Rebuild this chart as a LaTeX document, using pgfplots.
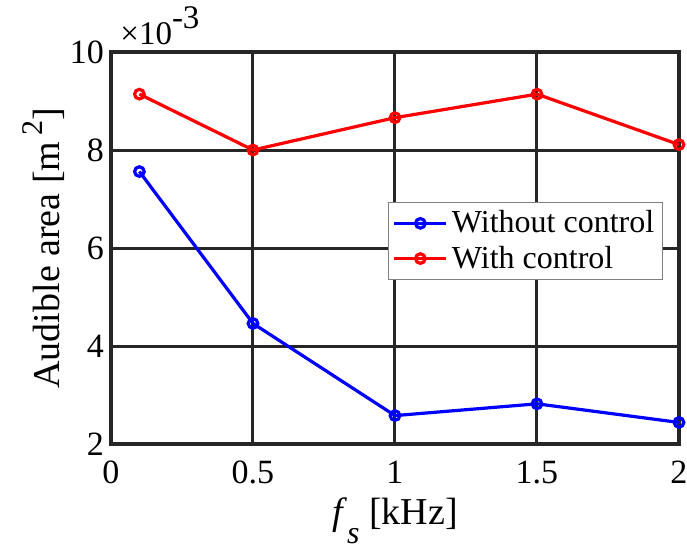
\documentclass[border=0pt]{standalone}
\usepackage{fontspec}
\setmainfont{Liberation Serif}
\usepackage{pgfplots}
\pgfplotsset{compat=1.18}
\definecolor{cAx}{HTML}{262626}

\begin{document}
\begin{tikzpicture}
  \begin{axis}[
    clip=false,
    scale only axis, width=284pt, height=196pt,
    xmin=0, xmax=2, ymin=0.002, ymax=0.010,
    xtick={0,0.5,1,1.5,2}, ytick={0.002,0.004,0.006,0.008,0.010},
    scaled y ticks=base 10:3,
    ytick scale label code/.code={},
    /pgf/number format/assume math mode=true,
    tick label style={font=\fontsize{17}{19}\selectfont},
    xticklabel={\raisebox{0pt}[16.3pt][0pt]{\axisdefaultticklabel}},
    label style={font=\fontsize{19}{21}\selectfont},
    xlabel={\textit{f}\raisebox{-9.5pt}{\fontsize{16}{17}\selectfont\textit{s}} [kHz]},
    ylabel={Audible area [m\,\raisebox{8.5pt}{\fontsize{15}{16}\selectfont 2}]},
    ylabel shift=-4pt,
    grid=major, major grid style={cAx, line width=1.5pt},
    axis line style={cAx, line width=1.7pt},
    tick style={cAx, line width=1pt}, major tick length=3pt,
    tick align=inside,
    legend style={at={(0.488,0.617)}, anchor=north west, draw=gray, fill=white,
                  line width=0.6pt, font=\fontsize{16}{18}\selectfont,
                  inner sep=2pt, row sep=1pt},
    legend image code/.code={\draw[mark repeat=2, mark phase=2] plot coordinates {(0pt,0pt) (13pt,0pt) (26pt,0pt)};},
    legend cell align=left,
  ]
    \addplot[blue, line width=1.6pt, mark=o, mark size=2.4pt, mark options={line width=1.6pt}] coordinates {
      (0.1,0.00756) (0.5,0.00446) (1,0.00258) (1.5,0.00282) (2,0.00244)};
    \addplot[red, line width=1.6pt, mark=o, mark size=2.4pt, mark options={line width=1.6pt}] coordinates {
      (0.1,0.00914) (0.5,0.00800) (1,0.00866) (1.5,0.00914) (2,0.00811)};
    \legend{Without control, With control}
    \node[anchor=base west, inner sep=0pt, xshift=4.5pt, yshift=4pt] at (rel axis cs:0,1)
      {\fontsize{16.5}{18}\selectfont ×10\raisebox{8pt}{\fontsize{16.5}{18}\selectfont -3}};
    \coordinate (sw) at (rel axis cs:0,0);
  \end{axis}
  \pgfresetboundingbox
  \path (sw) ++(-55.5pt,-55pt) rectangle ++(343.5pt,277pt);
\end{tikzpicture}
\end{document}
